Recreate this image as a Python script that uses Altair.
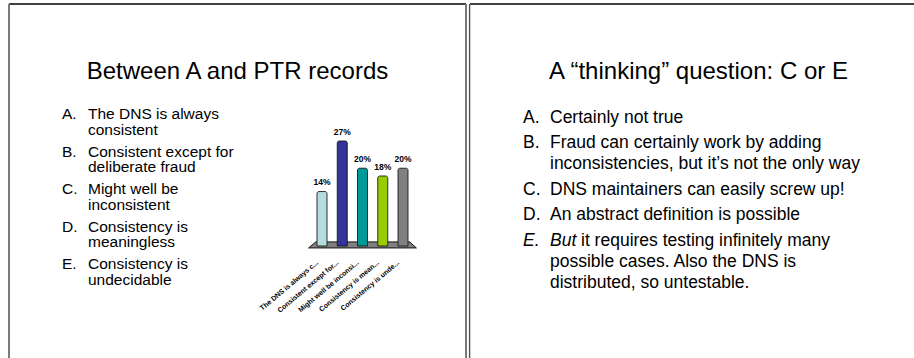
import altair as alt
import pandas as pd

W, H = 914, 358
FONT = "Liberation Sans"

# Poll results shown on the left slide
answers = ["A", "B", "C", "D", "E"]
short_labels = [
    "The DNS is always c...",
    "Consistent except for...",
    "Might well be inconsi...",
    "Consistency is mean...",
    "Consistency is unde...",
]
shares = [0.14, 0.27, 0.20, 0.18, 0.20]
bar_colors = ["#B4DCDF", "#333399", "#009999", "#99CC00", "#808080"]

# Slide texts
left_title = "Between A and PTR records"
left_items = [
    ["The DNS is always", "consistent"],
    ["Consistent except for", "deliberate fraud"],
    ["Might well be", "inconsistent"],
    ["Consistency is", "meaningless"],
    ["Consistency is", "undecidable"],
]
right_title = "A \u201cthinking\u201d question: C or E"
right_items = [
    ["Certainly not true"],
    ["Fraud can certainly work by adding", "inconsistencies, but it\u2019s not the only way"],
    ["DNS maintainers can easily screw up!"],
    ["An abstract definition is possible"],
    ["But it requires testing infinitely many", "possible cases. Also the DNS is", "distributed, so untestable."],
]
italic_items = {4}  # the last answer on the right slide is set with an italic lead word


def list_rows(items, x_marker, x_text, y0, item_gap, line_gap, lead_shift=0):
    markers, lines, leads = [], [], []
    y = y0
    for i, item in enumerate(items):
        markers.append({"px": x_marker, "py": y, "text": answers[i] + ".",
                        "style": "italic" if i in italic_items and lead_shift else "normal"})
        for j, line in enumerate(item):
            yy = y + j * line_gap
            if j == 0 and i in italic_items and lead_shift:
                word, rest = line.split(" ", 1)
                leads.append({"px": x_text, "py": yy, "text": word})
                lines.append({"px": x_text + lead_shift, "py": yy, "text": rest})
            else:
                lines.append({"px": x_text, "py": yy, "text": line})
        y += (len(item) - 1) * line_gap + item_gap
    return pd.DataFrame(markers), pd.DataFrame(lines), pd.DataFrame(leads)


def pix_text(df, size, style="normal", align="left"):
    return alt.Chart(df).mark_text(
        font=FONT, fontSize=size, fontStyle=style, align=align,
        baseline="alphabetic", color="#000000",
    ).encode(
        x=alt.X("px:Q", scale=None, axis=None),
        y=alt.Y("py:Q", scale=None, axis=None),
        text="text:N",
    )


one = pd.DataFrame({"k": [0]})


def rule(x, x2=None, y=None, y2=None, color="#000000", width=1.0):
    enc = {"x": alt.value(x), "y": alt.value(y)}
    if x2 is not None:
        enc["x2"] = alt.value(x2)
    if y2 is not None:
        enc["y2"] = alt.value(y2)
    return alt.Chart(one).mark_rule(color=color, strokeWidth=width).encode(**enc)


# Slide frames
frames = alt.layer(
    rule(9, 466, 4, color="#000000", width=1.5),
    rule(470, 914, 4, color="#000000", width=1.5),
    rule(9, None, 4, H, color="#7a7a7a", width=2),
    rule(466, None, 4, H, color="#7a7a7a", width=2),
    rule(469.6, None, 4, H, color="#555555", width=1.4),
)

# Titles
titles = pix_text(pd.DataFrame([
    {"px": 237.5, "py": 79, "text": left_title},
    {"px": 698.5, "py": 79, "text": right_title},
]), 24, align="center")

# Left bullet list
lm, ll, _ = list_rows(left_items, 62, 88, 119, 22.0, 15.6)
left_list = pix_text(lm, 15.5) + pix_text(ll, 15.5)

# Right bullet list
rm, rl, rlead = list_rows(right_items, 523, 550, 122.5, 25.5, 21, lead_shift=31)
right_list = (
    pix_text(rm[rm["style"] == "normal"], 17.5)
    + pix_text(rm[rm["style"] == "italic"], 17.5, style="italic")
    + pix_text(rl, 17.5)
    + pix_text(rlead, 17.5, style="italic")
)

# 3-D style bar chart of the poll
poll = pd.DataFrame({
    "answer": answers,
    "slot": list(range(len(answers))),
    "share": shares,
    "label": short_labels,
})
xs = alt.Scale(domain=[0, 4], range=[317, 408])
ys = alt.Scale(domain=[0, 0.27], range=[246, 141])

# Perspective floor under the bars (a trapezoid in slot / share units)
floor_df = pd.DataFrame({
    "fx": [-0.66, -0.31, 4.33, 4.66],
    "ftop": [-0.005, 0.0105, 0.0105, -0.005],
    "fbot": [-0.005, -0.005, -0.005, -0.005],
})
floor = alt.Chart(floor_df).mark_area(
    fill="#808080", stroke="#111111", strokeWidth=1, fillOpacity=1, interpolate="linear",
).encode(
    x=alt.X("fx:Q", scale=xs, axis=None),
    y=alt.Y("ftop:Q", scale=ys, axis=None, stack=None),
    y2=alt.Y2("fbot:Q"),
)

base = alt.Chart(poll)
bars = base.mark_bar(
    size=10, stroke="#1a1a1a", strokeWidth=0.9,
    cornerRadiusTopLeft=2, cornerRadiusTopRight=2,
).encode(
    x=alt.X("slot:Q", scale=xs, axis=None),
    y=alt.Y("share:Q", scale=ys, axis=None),
    y2=alt.datum(0),
    color=alt.Color("answer:N", scale=alt.Scale(domain=answers, range=bar_colors), legend=None),
)
pct = base.mark_text(
    font=FONT, fontSize=8.5, fontWeight="bold", baseline="alphabetic", dy=-6.5, color="#000000",
).encode(
    x=alt.X("slot:Q", scale=xs, axis=None),
    y=alt.Y("share:Q", scale=ys, axis=None),
    text=alt.Text("share:Q", format=".0%"),
)
cats = base.mark_text(
    font=FONT, fontSize=7, fontWeight="bold", angle=320, align="right",
    baseline="middle", dx=-6, color="#000000",
).encode(
    x=alt.X("slot:Q", scale=xs, axis=None),
    y=alt.value(258),
    text="label:N",
)
poll_chart = alt.layer(floor, bars, pct, cats)

chart = alt.layer(
    frames, titles, left_list, right_list, poll_chart,
).resolve_scale(
    x="independent", y="independent", color="independent",
).properties(
    width=W, height=H, padding=0, autosize=alt.AutoSizeParams(type="none"),
    background="#ffffff",
).configure_view(stroke=None)

chart.save("out.html", embed_options={"renderer": "svg", "actions": False})
